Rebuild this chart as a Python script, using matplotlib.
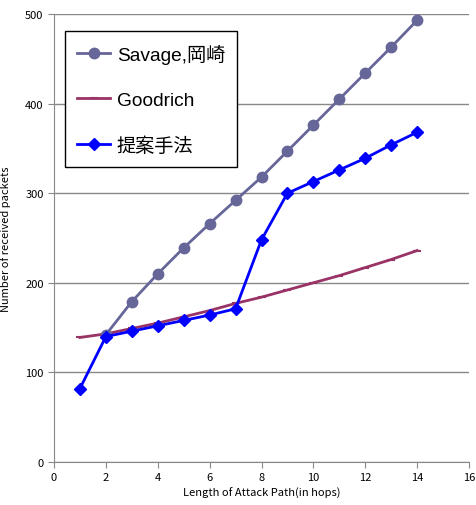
import matplotlib
matplotlib.use("Agg")
import matplotlib.pyplot as plt

x_savage = [2, 3, 4, 5, 6, 7, 8, 9, 10, 11, 12, 13, 14]
savage = [142, 179, 210, 239, 266, 292, 318, 347, 376, 405, 434, 463, 493]
x_all = [1, 2, 3, 4, 5, 6, 7, 8, 9, 10, 11, 12, 13, 14]
goodrich = [139, 143, 149, 155, 162, 169, 177, 184, 192, 200, 208, 217, 226, 236]
proposed = [82, 140, 146, 152, 158, 164, 171, 248, 300, 313, 326, 339, 354, 368]
labels = ["Savage,岡崎", "Goodrich", "提案手法"]
xticks = list(range(0, 17, 2))
yticks = [0, 100, 200, 300, 400, 500]

jp = ["Noto Sans CJK JP", "DejaVu Sans"]
leg_fam = ["Liberation Sans", "Noto Sans CJK JP"]

fig = plt.figure(figsize=(4.76, 5.06), dpi=100)
ax = fig.add_axes([54/476, 43/506, 415/476, 448/506])

ax.plot(x_savage, savage, color="#666699", lw=2, marker="o", ms=7.5, label=labels[0], zorder=3)
ax.plot(x_all, goodrich, color="#993366", lw=2, marker="_", ms=6, mew=1.5, label=labels[1], zorder=2)
ax.plot(x_all, proposed, color="#0000ff", lw=2, marker="D", ms=6.5, label=labels[2], zorder=4)

ax.set_xlim(0, 16)
ax.set_ylim(0, 500)
ax.set_xticks(xticks)
ax.set_yticks(yticks)
ax.grid(axis="y", color="#888888", lw=1)
ax.set_axisbelow(True)
for s in ["top", "right"]:
    ax.spines[s].set_visible(False)
for s in ["left", "bottom"]:
    ax.spines[s].set_color("#888888")
ax.tick_params(axis="both", colors="#888888", length=4, direction="out", labelcolor="black", labelsize=8)
for t in ax.get_xticklabels() + ax.get_yticklabels():
    t.set_family(jp)

ax.set_xlabel("Length of Attack Path(in hops)", family=jp, fontsize=8, labelpad=3)
ax.set_ylabel("Number of received packets", family=jp, fontsize=8, labelpad=10)

leg = ax.legend(loc="upper left", bbox_to_anchor=(11/415, 431/448), borderaxespad=0,
                prop={"family": leg_fam, "size": 13.8}, frameon=True, fancybox=False,
                edgecolor="black", framealpha=1, labelspacing=1.45, borderpad=0.65,
                handlelength=1.7, handletextpad=0.35)
leg.get_frame().set_linewidth(1)

fig.savefig("out.png", dpi=100)
